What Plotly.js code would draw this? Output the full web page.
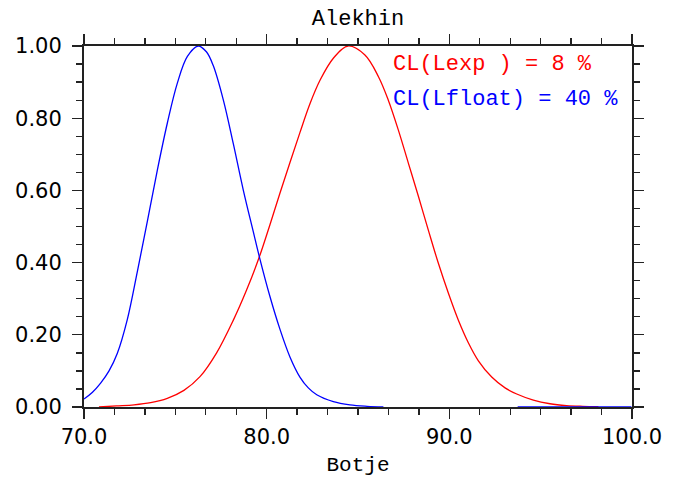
<!DOCTYPE html>
<html>
<head>
<meta charset="utf-8">
<script src="https://cdn.plot.ly/plotly-3.0.1.min.js"></script>
<style>
html,body{margin:0;padding:0;background:#fff;}
#chart{width:682px;height:477px;}
</style>
</head>
<body>
<div id="chart"></div>
<script>
// Blue curve: CL(Lfloat)
const blueX = [70.00, 70.45, 70.91, 71.37, 71.82, 72.37, 72.92, 73.47, 74.01, 74.56, 75.11, 75.66, 76.25, 76.70, 77.08, 77.63, 78.17, 78.72, 79.27, 79.60, 80.18, 80.73, 81.28, 81.82, 82.28, 82.74, 83.65, 84.56, 85.50, 86.39, null, 93.74, 99.97];
const blueY = [0.022, 0.040, 0.066, 0.100, 0.148, 0.242, 0.375, 0.515, 0.655, 0.786, 0.897, 0.971, 1.000, 0.984, 0.945, 0.850, 0.730, 0.601, 0.485, 0.416, 0.306, 0.215, 0.138, 0.083, 0.053, 0.034, 0.015, 0.006, 0.002, 0.000, null, 0.000, 0.000];
// Red curve: CL(Lexp)
const redX = [70.82, 71.78, 72.74, 73.65, 74.56, 75.47, 76.35, 77.26, 78.17, 78.90, 79.60, 80.18, 80.73, 81.28, 81.82, 82.37, 82.92, 83.65, 84.45, 85.38, 86.12, 86.66, 87.21, 87.76, 88.31, 88.85, 89.40, 89.95, 90.49, 91.04, 91.59, 92.32, 93.05, 93.69, 94.60, 95.51, 96.42, 97.30, 98.16];
const redY = [0.000, 0.003, 0.006, 0.012, 0.024, 0.046, 0.084, 0.150, 0.240, 0.324, 0.416, 0.505, 0.593, 0.678, 0.760, 0.840, 0.905, 0.966, 1.000, 0.975, 0.915, 0.850, 0.767, 0.675, 0.583, 0.490, 0.398, 0.315, 0.241, 0.178, 0.128, 0.083, 0.053, 0.036, 0.019, 0.009, 0.004, 0.002, 0.001];

const titleText = "Alekhin";
const xTitle = "Botje";
const labels = ["CL(Lexp ) = 8 %", "CL(Lfloat) = 40 %"];
const xTickVals = [70, 80, 90, 100];
const xTickText = ["70.0", "80.0", "90.0", "100.0"];
const yTickVals = [0, 0.2, 0.4, 0.6, 0.8, 1.0];
const yTickText = ["0.00", "0.20", "0.40", "0.60", "0.80", "1.00"];

const mono = "Liberation Mono, Courier New, monospace";
const sans = "DejaVu Sans, sans-serif";

const traces = [
  {x: redX, y: redY, mode: "lines", line: {color: "#ff0000", width: 1.3, shape: "spline", smoothing: 1.0}, hoverinfo: "skip"},
  {x: blueX, y: blueY, mode: "lines", line: {color: "#0000ff", width: 1.3, shape: "spline", smoothing: 1.0}, connectgaps: false, hoverinfo: "skip"}
];

const axisCommon = {
  showgrid: false, zeroline: false,
  showline: true, linecolor: "#222", linewidth: 2, mirror: "ticks",
  ticks: "outside", ticklen: 10, tickwidth: 1.3, tickcolor: "#222",
  tickfont: {family: sans, size: 21, color: "#000"},
};

const layout = {
  width: 682, height: 477,
  margin: {l: 84, r: 50, t: 46, b: 70},
  paper_bgcolor: "#fff", plot_bgcolor: "#fff",
  showlegend: false,
  title: {text: titleText, x: 0.5, xref: "paper", xanchor: "center", y: 0.964, yref: "container", yanchor: "middle",
          font: {family: mono, size: 22, color: "#000"}},
  xaxis: Object.assign({}, axisCommon, {
    range: [70, 100], tickvals: xTickVals, ticktext: xTickText,
    minor: {dtick: 10/6, tick0: 70, ticks: "outside", ticklen: 6, tickwidth: 1.3, tickcolor: "#222", showgrid: false},
    ticklabelstandoff: 0,
    title: {text: xTitle, standoff: 12, font: {family: mono, size: 21, color: "#000"}}
  }),
  yaxis: Object.assign({}, axisCommon, {
    range: [0, 1], tickvals: yTickVals, ticktext: yTickText,
    minor: {dtick: 0.05, tick0: 0, ticks: "outside", ticklen: 6, tickwidth: 1.3, tickcolor: "#222", showgrid: false},
    ticklabelstandoff: 6
  }),
  annotations: [
    {text: labels[0], xref: "paper", yref: "paper", x: 0.561, y: 0.950, xanchor: "left", yanchor: "middle", showarrow: false,
     font: {family: mono, size: 22, color: "#ff0000"}},
    {text: labels[1], xref: "paper", yref: "paper", x: 0.561, y: 0.852, xanchor: "left", yanchor: "middle", showarrow: false,
     font: {family: mono, size: 22, color: "#0000ff"}}
  ]
};

Plotly.newPlot("chart", traces, layout, {staticPlot: true, displayModeBar: false});
</script>
</body>
</html>
